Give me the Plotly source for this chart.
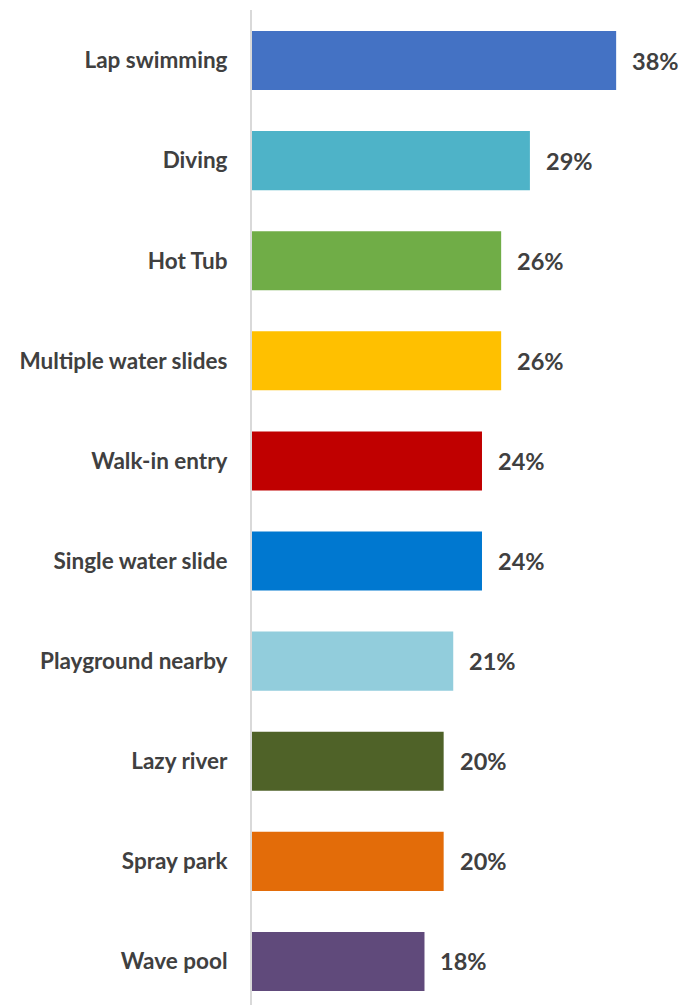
import plotly.graph_objects as go

categories = ["Lap swimming", "Diving", "Hot Tub", "Multiple water slides", "Walk-in entry",
              "Single water slide", "Playground nearby", "Lazy river", "Spray park", "Wave pool"]
values = [38, 29, 26, 26, 24, 24, 21, 20, 20, 18]
labels = ["38%", "29%", "26%", "26%", "24%", "24%", "21%", "20%", "20%", "18%"]
colors = ["#4472C4", "#4EB3C8", "#70AD47", "#FFC000", "#C00000",
          "#0078D0", "#92CDDC", "#4F6228", "#E36C09", "#604A7B"]

font_family = "Lato"
text_color = "#404040"

fig = go.Figure()
fig.add_trace(go.Bar(
    y=categories, x=values, orientation="h",
    marker=dict(color=colors, line=dict(width=0)),
    hoverinfo="skip", showlegend=False,
))

for cat, val, lab in zip(categories, values, labels):
    fig.add_annotation(
        x=val, y=cat, text=f"<b>{lab}</b>", showarrow=False,
        xanchor="left", yanchor="middle", xshift=14,
        font=dict(family=font_family, size=23.5, color=text_color),
    )

fig.update_layout(
    width=685, height=1005,
    margin=dict(l=252, r=1, t=10, b=0),
    paper_bgcolor="white", plot_bgcolor="white",
    bargap=0.41,
    xaxis=dict(range=[0, 45.08], visible=False),
    yaxis=dict(
        categoryorder="array", categoryarray=categories,
        range=[9.435, -0.5045],
        showgrid=False, zeroline=False,
        showline=True, linecolor="#D9D9D9", linewidth=2,
        ticks="", ticklabelstandoff=18,
        tickfont=dict(family=font_family, size=22.5, color=text_color, weight="bold"),
    ),
)

fig.write_html("out.html")
